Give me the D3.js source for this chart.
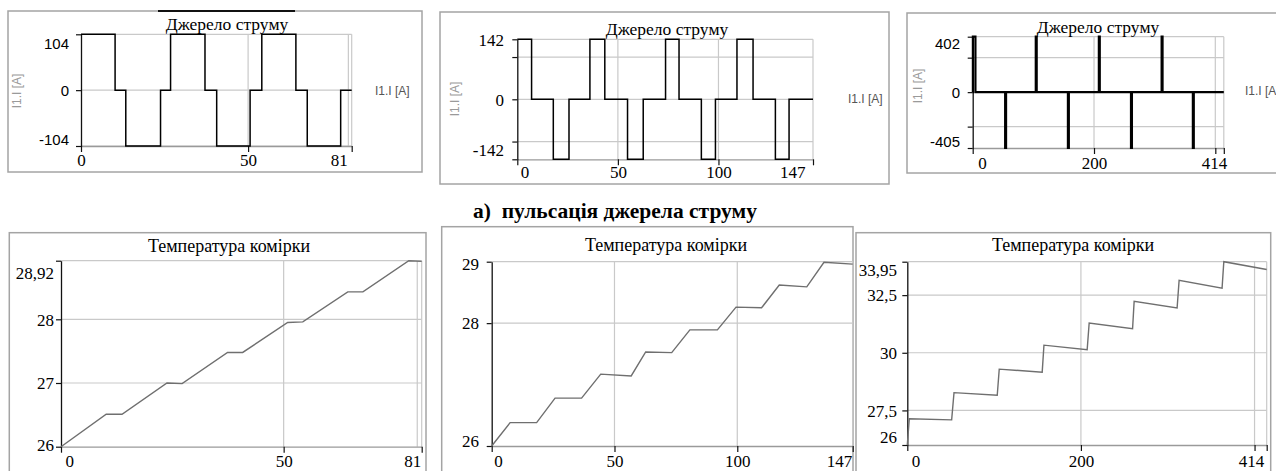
<!DOCTYPE html>
<html><head><meta charset="utf-8">
<script src="https://cdn.jsdelivr.net/npm/d3@7"></script>
<style>body{margin:0;background:#fff;} svg{display:block}</style>
</head><body><svg id="c" width="1276" height="471"></svg>
<script>
// ---------------- DATA ----------------
const currentTitle = "Джерело струму";
const tempTitle = "Температура комірки";
const currentUnit = "I1.I [A]";
const caption = "а)  пульсація джерела струму";

// Current source pulses (step-after: value holds from time[i] to time[i+1])
const t1 = [0, 10.2, 13.4, 23.8, 26.8, 37.1, 40.6, 50.6, 54.1, 64.3, 67.7, 77.7, 81];
const i1 = [104, 0, -104, 0, 104, 0, -104, 0, 104, 0, -104, 0, 0];
const t2 = [0, 7.1, 17.9, 25.7, 36.1, 43.5, 54.8, 62.6, 73.7, 80.4, 91.5, 98.5, 109.2, 117.2, 128.3, 135.1, 147];
const i2 = [142, 0, -142, 0, 142, 0, -142, 0, 142, 0, -142, 0, 142, 0, -142, 0, 0];
const t3 = [0, 0.3, 4.5, 53.5, 55, 104, 105.5, 157, 158.5, 208, 209.5, 261, 262.5, 311.5, 313, 363, 364.5, 414];
const i3 = [0, 402, 0, -405, 0, 402, 0, -405, 0, 402, 0, -405, 0, 402, 0, -405, 0, 0];

// Cell temperature
const t4 = [0, 10.15, 13.7, 23.8, 27.2, 37.4, 40.8, 50.9, 54.3, 64.4, 67.8, 78.1, 81];
const T4 = [26, 26.51, 26.51, 27.0, 26.99, 27.48, 27.48, 27.95, 27.96, 28.43, 28.43, 28.92, 28.91];
const t5 = [0, 7.5, 18.3, 25.8, 36.6, 44.4, 56.8, 62.7, 73.3, 80.7, 91.9, 99.5, 109.9, 117.1, 128.3, 135.3, 147];
const T5 = [26, 26.38, 26.38, 26.78, 26.78, 27.17, 27.14, 27.53, 27.52, 27.89, 27.89, 28.26, 28.25, 28.62, 28.59, 28.99, 28.96];
const t6 = [0, 2.3, 51.1, 53.8, 103.6, 105.9, 155.4, 157.4, 207.2, 209.5, 259.5, 261.3, 310.8, 313.1, 362.6, 364.6, 414];
const T6 = [26, 27.14, 27.09, 28.27, 28.16, 29.29, 29.16, 30.33, 30.13, 31.29, 31.04, 32.23, 31.94, 33.14, 32.80, 33.95, 33.61];

// Ticks / labels
const xTicks1 = [0, 50, 81], xGrid1 = [50, 80];
const yTicks1 = [-104, 0, 104], yLab1 = [-104, 0, 104], yGrid1 = [-104, 0, 104];
const xTicks2 = [0, 50, 100, 147], xGrid2 = [50, 100];
const yTicks2 = [-142, -100, 0, 100, 142], yLab2 = [-142, 0, 142], yGrid2 = [-100, 0, 100, 142];
const xTicks3 = [0, 200, 400, 414], xLab3 = [0, 200, 414], xGrid3 = [200, 400];
const yTicks3 = [-405, -250, 0, 250, 402], yLab3 = [-405, 0, 402], yGrid3 = [-250, 0, 250, 402];
const xTicks4 = [0, 50, 81], xGrid4 = [50, 80];
const yTicks4 = [26, 27, 28, 28.92], yGrid4 = [27, 28, 28.92];
const xTicks5 = [0, 50, 100, 147], xGrid5 = [50, 100];
const yTicks5 = [26, 28, 29], yGrid5 = [28, 29];
const xTicks6 = [0, 200, 400, 414], xLab6 = [0, 200, 414], xGrid6 = [200, 400];
const yTicks6 = [26, 27.5, 30, 32.5, 33.95], yGrid6 = [27.5, 30, 32.5, 33.95];

// ---------------- LAYOUT ----------------
const SERIF = '"Liberation Serif", "Times New Roman", serif';
const SANS = '"Liberation Sans", Arial, sans-serif';

const panels = [
  {t: t1, v: i1, xDom: [0, 81], yDom: [-104, 104], xT: xTicks1, xL: xTicks1, xG: xGrid1, yT: yTicks1, yL: yLab1, yG: yGrid1,
   box: [8, 11, 422, 172], plot: [81, 34.3, 351.7, 146], title: currentTitle, titleXY: [227, 24], titleSize: 17.5,
   stroke: "#000", sw: 1.5, step: true, yFont: SANS, ySize: 15, topDy: 8.7, botDy: -7, yLabX: 69,
   xLabY: 160, firstDx: 0, firstAnchor: "middle", lastDx: -4.5, unitL: [17, 91], unitR: [375, 91]},
  {t: t2, v: i2, xDom: [0, 147], yDom: [-142, 142], xT: xTicks2, xL: xTicks2, xG: xGrid2, yT: yTicks2, yL: yLab2, yG: yGrid2,
   box: [440, 12, 889, 184], plot: [517.3, 39.3, 813, 159.3], title: currentTitle, titleXY: [667, 29], titleSize: 17.5,
   stroke: "#000", sw: 1.5, step: true, yFont: SERIF, ySize: 17, topDy: 0, botDy: -9.3, yLabX: 504,
   xLabY: 172, firstDx: 3, firstAnchor: "start", lastDx: -8, unitL: [455, 99], unitR: [848, 99]},
  {t: t3, v: i3, xDom: [0, 414], yDom: [-405, 402], xT: xTicks3, xL: xLab3, xG: xGrid3, yT: yTicks3, yL: yLab3, yG: yGrid3,
   box: [907, 13, 1300, 173], plot: [972.7, 36.7, 1223.8, 148], title: currentTitle, titleXY: [1098, 27], titleSize: 17.5,
   stroke: "#000", sw: 2.2, step: true, yFont: SANS, ySize: 15, topDy: 7, botDy: -6.3, yLabX: 960,
   xLabY: 163, firstDx: 5, firstAnchor: "start", lastDx: 3, unitL: [918, 86], unitR: [1245, 91]},
  {t: t4, v: T4, xDom: [0, 81], yDom: [26, 28.92], xT: xTicks4, xL: xTicks4, xG: xGrid4, yT: yTicks4, yL: yTicks4, yG: yGrid4,
   box: [9.3, 232.7, 426, 500], plot: [61, 260.7, 421.7, 446.7], title: tempTitle, titleXY: [229, 246], titleSize: 18,
   stroke: "#6f6f6f", sw: 1.4, step: false, yFont: SERIF, ySize: 17, topDy: 12, botDy: -2, yLabX: 54,
   xLabY: 461, firstDx: 4, firstAnchor: "start", lastDx: -1, unitL: null, unitR: null},
  {t: t5, v: T5, xDom: [0, 147], yDom: [26, 29], xT: xTicks5, xL: xTicks5, xG: xGrid5, yT: yTicks5, yL: yTicks5, yG: yGrid5,
   box: [441.7, 226.7, 853, 500], plot: [491.7, 261.7, 852.7, 446], title: tempTitle, titleXY: [666, 245], titleSize: 18,
   stroke: "#6f6f6f", sw: 1.4, step: false, yFont: SERIF, ySize: 17, topDy: 2.5, botDy: -5.3, yLabX: 479,
   xLabY: 461, firstDx: 2, firstAnchor: "start", lastDx: -1, unitL: null, unitR: null},
  {t: t6, v: T6, xDom: [0, 414], yDom: [26, 33.95], xT: xTicks6, xL: xLab6, xG: xGrid6, yT: yTicks6, yL: yTicks6, yG: yGrid6,
   box: [856, 232.7, 1270.7, 500], plot: [907.3, 261.7, 1266.7, 445], title: tempTitle, titleXY: [1073, 245], titleSize: 18,
   stroke: "#6f6f6f", sw: 1.4, step: false, yFont: SERIF, ySize: 17, topDy: 8, botDy: -8, yLabX: 897,
   xLabY: 461, firstDx: 4, firstAnchor: "start", lastDx: -3, unitL: null, unitR: null}
];

const svg = d3.select("#c");
const fmt = v => String(v).replace(".", ",");

panels.forEach(p => {
  const g = svg.append("g");
  const [bx0, by0, bx1, by1] = p.box;
  const [px0, py0, px1, py1] = p.plot;
  const x = d3.scaleLinear().domain(p.xDom).range([px0, px1]);
  const y = d3.scaleLinear().domain(p.yDom).range([py1, py0]);

  g.append("rect").attr("x", bx0).attr("y", by0).attr("width", bx1 - bx0).attr("height", by1 - by0)
    .attr("fill", "none").attr("stroke", "#a4a4a4").attr("stroke-width", 1.5);

  // gridlines
  g.selectAll(".hg").data(p.yG).join("line")
    .attr("x1", px0).attr("x2", px1).attr("y1", d => y(d)).attr("y2", d => y(d))
    .attr("stroke", "#c9c9c9").attr("stroke-width", 1.2);
  g.selectAll(".vg").data(p.xG.concat([p.xDom[1]])).join("line")
    .attr("y1", py0).attr("y2", py1).attr("x1", d => x(d)).attr("x2", d => x(d))
    .attr("stroke", "#c9c9c9").attr("stroke-width", 1.2);

  // x axis
  const xa = g.append("g").attr("transform", `translate(0,${py1})`)
    .call(d3.axisBottom(x).tickValues(p.xT).tickSize(6).tickSizeOuter(0)
      .tickFormat(d => p.xL.includes(d) ? fmt(d) : ""));
  xa.attr("font-family", null);
  xa.select(".domain").attr("stroke", "#9a9a9a").attr("stroke-width", 1.3);
  xa.selectAll(".tick line").attr("stroke", "#111").attr("stroke-width", 1.2);
  xa.selectAll(".tick text").style("font-family", SERIF).style("font-size", "17px").attr("fill", "#000")
    .attr("y", p.xLabY - py1).attr("dy", "0.36em")
    .each(function (d) {
      const s = d3.select(this);
      if (d === p.xDom[0]) s.attr("text-anchor", p.firstAnchor).attr("x", p.firstDx);
      else if (d === p.xDom[1]) s.attr("text-anchor", "end").attr("x", p.lastDx);
    });

  // y axis
  const ya = g.append("g").attr("transform", `translate(${px0},0)`)
    .call(d3.axisLeft(y).tickValues(p.yT).tickSize(5).tickSizeOuter(0)
      .tickPadding(px0 - 5 - p.yLabX)
      .tickFormat(d => p.yL.includes(d) ? fmt(d) : ""));
  ya.attr("font-family", null);
  ya.select(".domain").attr("stroke", "#111").attr("stroke-width", 1.3);
  ya.selectAll(".tick line").attr("stroke", "#111").attr("stroke-width", 1.2);
  ya.selectAll(".tick text").style("font-family", p.yFont).style("font-size", p.ySize + "px").attr("fill", "#000")
    .attr("dy", "0.34em")
    .each(function (d) {
      const s = d3.select(this);
      if (d === p.yDom[1]) s.attr("y", p.topDy);
      else if (d === p.yDom[0]) s.attr("y", p.botDy);
    });

  // data line
  const pts = p.t.map((tv, k) => [tv, p.v[k]]);
  const line = d3.line().x(d => x(d[0])).y(d => y(d[1]))
    .curve(p.step ? d3.curveStepAfter : d3.curveLinear);
  g.append("path").datum(pts).attr("d", line).attr("fill", "none")
    .attr("stroke", p.stroke).attr("stroke-width", p.sw).attr("stroke-linejoin", "miter");

  // title
  g.append("text").attr("x", p.titleXY[0]).attr("y", p.titleXY[1]).attr("dy", "0.35em")
    .attr("text-anchor", "middle").style("font-family", SERIF).style("font-size", p.titleSize + "px").text(p.title);

  // unit labels
  if (p.unitL) {
    g.append("text").attr("transform", `translate(${p.unitL[0]},${p.unitL[1]}) rotate(-90)`)
      .attr("text-anchor", "middle").attr("dy", "0.35em").style("font-family", SANS)
      .style("font-size", "12px").attr("fill", "#9a9a9a").text(currentUnit);
  }
  if (p.unitR) {
    g.append("text").attr("x", p.unitR[0]).attr("y", p.unitR[1]).attr("dy", "0.35em")
      .style("font-family", SANS).style("font-size", "12px").attr("fill", "#555").text(currentUnit);
  }
});

// scan artefact: dark bar over first title
svg.append("line").attr("x1", 158).attr("x2", 295).attr("y1", 11).attr("y2", 11)
  .attr("stroke", "#111").attr("stroke-width", 2);

// caption
svg.append("text").attr("x", 473).attr("y", 218).style("font-family", SERIF)
  .style("font-weight", "bold").style("font-size", "21.5px").style("white-space", "pre").text(caption);
</script>
</body></html>
